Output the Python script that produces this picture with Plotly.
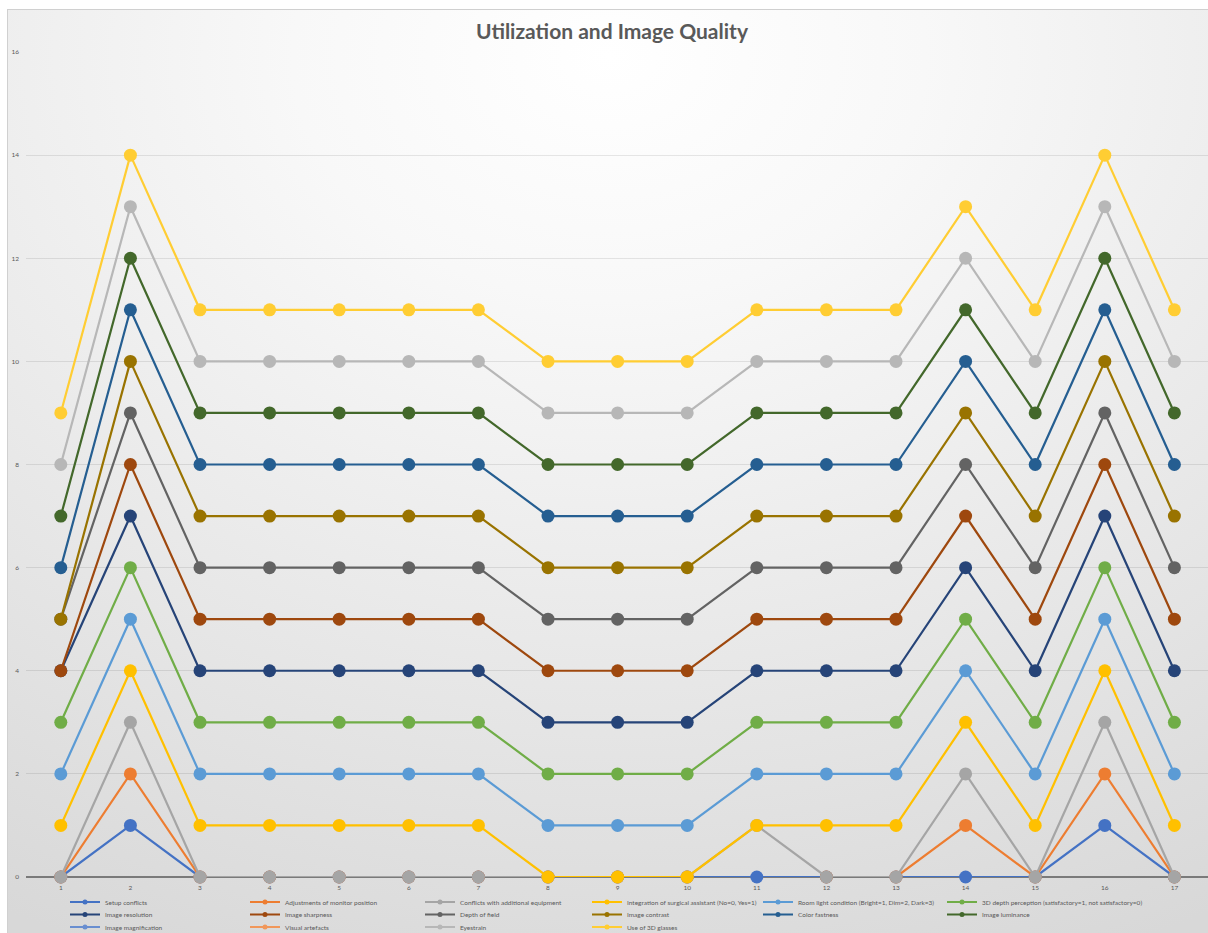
import base64
import numpy as np
import plotly.graph_objects as go

# ---- data -------------------------------------------------------------
categories = [1, 2, 3, 4, 5, 6, 7, 8, 9, 10, 11, 12, 13, 14, 15, 16, 17]
y_ticks = [0, 2, 4, 6, 8, 10, 12, 14, 16]

series_names = [
    "Setup conflicts",
    "Adjustments of monitor position",
    "Conflicts with additional equipment",
    "Integration of surgical assistant (No=0, Yes=1)",
    "Room light condition (Bright=1, Dim=2, Dark=3)",
    "3D depth perception (satisfactory=1, not satisfactory=0)",
    "Image resolution",
    "Image sharpness",
    "Depth of field",
    "Image contrast",
    "Color fastness",
    "Image luminance",
    "Image magnification",
    "Visual artefacts",
    "Eyestrain",
    "Use of 3D glasses",
]

setup_conflicts      = [0, 1, 0, 0, 0, 0, 0, 0, 0, 0, 0, 0, 0, 0, 0, 1, 0]
monitor_adjustments  = [0, 1, 0, 0, 0, 0, 0, 0, 0, 0, None, 0, 0, 1, 0, 1, 0]
equipment_conflicts  = [0, 1, 0, 0, 0, 0, 0, 0, 0, 0, 1, 0, 0, 1, 0, 1, 0]
surgical_assistant   = [1, 1, 1, 1, 1, 1, 1, 0, 0, 0, 0, 1, 1, 1, 1, 1, 1]
room_light           = [1, 1, 1, 1, 1, 1, 1, 1, 1, 1, 1, 1, 1, 1, 1, 1, 1]
depth_perception_3d  = [1, 1, 1, 1, 1, 1, 1, 1, 1, 1, 1, 1, 1, 1, 1, 1, 1]
image_resolution     = [1, 1, 1, 1, 1, 1, 1, 1, 1, 1, 1, 1, 1, 1, 1, 1, 1]
image_sharpness      = [0, 1, 1, 1, 1, 1, 1, 1, 1, 1, 1, 1, 1, 1, 1, 1, 1]
depth_of_field       = [1, 1, 1, 1, 1, 1, 1, 1, 1, 1, 1, 1, 1, 1, 1, 1, 1]
image_contrast       = [0, 1, 1, 1, 1, 1, 1, 1, 1, 1, 1, 1, 1, 1, 1, 1, 1]
color_fastness       = [1, 1, 1, 1, 1, 1, 1, 1, 1, 1, 1, 1, 1, 1, 1, 1, 1]
image_luminance      = [1, 1, 1, 1, 1, 1, 1, 1, 1, 1, 1, 1, 1, 1, 1, 1, 1]
image_magnification  = [None] * 17
visual_artefacts     = [None] * 17
eyestrain            = [1, 1, 1, 1, 1, 1, 1, 1, 1, 1, 1, 1, 1, 1, 1, 1, 1]
use_of_3d_glasses    = [1, 1, 1, 1, 1, 1, 1, 1, 1, 1, 1, 1, 1, 1, 1, 1, 1]

series_values = [
    setup_conflicts, monitor_adjustments, equipment_conflicts, surgical_assistant,
    room_light, depth_perception_3d, image_resolution, image_sharpness,
    depth_of_field, image_contrast, color_fastness, image_luminance,
    image_magnification, visual_artefacts, eyestrain, use_of_3d_glasses,
]

series_colors = [
    "#4472C4", "#ED7D31", "#A5A5A5", "#FFC000", "#5B9BD5", "#70AD47",
    "#264478", "#9E480E", "#636363", "#997300", "#255E91", "#43682B",
    "#698ED0", "#F1975A", "#B7B7B7", "#FFCD33",
]

# ---- geometry (pixels) ------------------------------------------------
FIG_W, FIG_H = 1208, 933
M_L, M_R, M_T, M_B = 26, 0, 52, 56
PLOT_W = FIG_W - M_L - M_R
PLOT_H = FIG_H - M_T - M_B
X_UNIT = 69.6
x_range = [0.5, 0.5 + PLOT_W / X_UNIT]


def px_to_paper_x(px):
    return (px - M_L) / PLOT_W


def px_to_paper_y(py):
    return (FIG_H - M_B - py) / PLOT_H


FONT = "Lato, 'Open Sans', sans-serif"
TEXT_GREY = "#595959"

fig = go.Figure()

# stacked lines: each series sits on the running total of the ones before
running = np.zeros(len(categories))
for name, vals, color in zip(series_names, series_values, series_colors):
    arr = np.array([np.nan if v is None else v for v in vals], dtype=float)
    running = running + np.nan_to_num(arr)
    y = [None if np.isnan(a) else float(r) for a, r in zip(arr, running)]
    fig.add_trace(go.Scatter(
        x=categories, y=y, mode="lines+markers", name=name,
        line=dict(color=color, width=2.2),
        marker=dict(color=color, size=13, line=dict(width=0)),
        showlegend=False, hoverinfo="x+y+name", cliponaxis=False,
    ))

# legend entries: three rows sharing six column positions (text start, px)
legend_rows = ["legend", "legend2", "legend3"]
column_text_x = [105, 285, 460, 627, 798, 982]
ITEM_GAP = 5
TEXT_GAP = 40
column_widths = [column_text_x[k + 1] - column_text_x[k] - TEXT_GAP - ITEM_GAP
                 for k in range(len(column_text_x) - 1)] + [185]

for i, (name, color) in enumerate(zip(series_names, series_colors)):
    fig.add_trace(go.Scatter(
        x=[None], y=[None], mode="lines+markers", name=name,
        line=dict(color=color, width=2),
        marker=dict(color=color, size=5),
        legend=legend_rows[i // 6], showlegend=True,
        legendwidth=column_widths[i % 6],
    ))

row_centers = [902, 914.5, 927]
legend_common = dict(
    orientation="h", xanchor="left", yanchor="middle",
    bgcolor="rgba(0,0,0,0)", borderwidth=0,
    font=dict(family=FONT, size=6.5, color=TEXT_GREY),
    entrywidthmode="pixels", itemwidth=30,
)
legend_layout = {}
for key, yc in zip(legend_rows, row_centers):
    legend_layout[key] = dict(x=px_to_paper_x(column_text_x[0] - TEXT_GAP),
                              y=px_to_paper_y(yc), **legend_common)

# chart-area background: soft radial fade from white at the top to light grey
bg_left, bg_top = 7, 9
bg_w, bg_h = FIG_W - bg_left + 4, FIG_H - bg_top + 4
svg = (
    f'<svg xmlns="http://www.w3.org/2000/svg" width="{bg_w}" height="{bg_h}" '
    f'viewBox="0 0 {bg_w} {bg_h}" preserveAspectRatio="none">'
    '<defs><radialGradient id="g" cx="0.5" cy="0.05" r="1.05" gradientUnits="objectBoundingBox">'
    '<stop offset="0" stop-color="#ffffff"/>'
    '<stop offset="0.25" stop-color="#f8f8f8"/>'
    '<stop offset="1" stop-color="#d8d8d8"/>'
    '</radialGradient></defs>'
    f'<rect x="0.5" y="0.5" width="{bg_w - 1}" height="{bg_h - 1}" fill="url(#g)" '
    'stroke="#d0d0d0" stroke-width="1"/></svg>'
)
svg_uri = "data:image/svg+xml;base64," + base64.b64encode(svg.encode()).decode()

fig.update_layout(
    width=FIG_W, height=FIG_H,
    margin=dict(l=M_L, r=M_R, t=M_T, b=M_B, pad=0, autoexpand=False),
    paper_bgcolor="#ffffff",
    plot_bgcolor="rgba(0,0,0,0)",
    title=dict(
        text="<b>Utilization and Image Quality</b>",
        font=dict(family=FONT, size=21, color=TEXT_GREY),
        x=612 / FIG_W, xref="container", xanchor="center",
        y=1 - 32 / FIG_H, yref="container", yanchor="middle",
    ),
    images=[dict(
        source=svg_uri, xref="paper", yref="paper",
        x=px_to_paper_x(bg_left), y=px_to_paper_y(bg_top),
        sizex=bg_w / PLOT_W, sizey=bg_h / PLOT_H,
        xanchor="left", yanchor="top", sizing="stretch", layer="below",
    )],
    xaxis=dict(
        range=x_range, tickvals=categories, ticktext=[str(c) for c in categories],
        showgrid=False, zeroline=False, showline=False, ticks="",
        ticklabelstandoff=5,
        tickfont=dict(family=FONT, size=6.5, color=TEXT_GREY),
        fixedrange=True,
    ),
    yaxis=dict(
        range=[0, 16], tickvals=y_ticks, ticktext=[str(t) for t in y_ticks],
        showgrid=True, gridcolor="rgba(0,0,0,0.09)", gridwidth=1,
        zeroline=True, zerolinecolor="#7a7a7a", zerolinewidth=1.5,
        showline=False, ticks="", ticklabelstandoff=6,
        tickfont=dict(family=FONT, size=6.5, color=TEXT_GREY),
        fixedrange=True,
    ),
    hovermode="closest",
    **legend_layout,
)

fig.write_html("out.html")
